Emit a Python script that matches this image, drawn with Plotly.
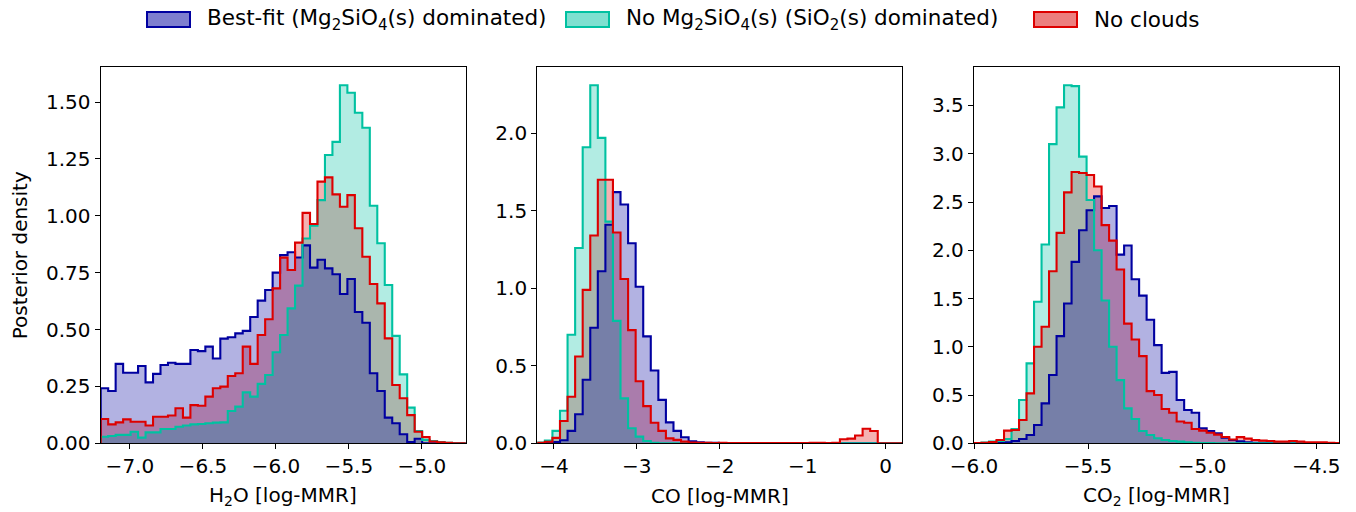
import numpy as np
import plotly.graph_objects as go

W, H = 1356, 512

# ---------------- data (posterior density histograms) ----------------
# Panel 1: H2O
h2o_bin_start, h2o_bin_width = -7.2, 0.0512
h2o_best = [0.242, 0.230, 0.349, 0.310, 0.310, 0.340, 0.268, 0.305, 0.344, 0.354,
            0.349, 0.349, 0.410, 0.405, 0.425, 0.373, 0.460, 0.466, 0.483, 0.494,
            0.555, 0.627, 0.674, 0.750, 0.827, 0.840, 0.817, 0.870, 0.772, 0.807,
            0.769, 0.743, 0.656, 0.722, 0.577, 0.530, 0.308, 0.230, 0.113, 0.088,
            0.040, 0.006, 0.020, 0.000, 0.000, 0.000, 0.000, 0.000, 0.000]
h2o_nomg = [0.029, 0.032, 0.037, 0.037, 0.051, 0.025, 0.048, 0.048, 0.063, 0.063,
            0.073, 0.078, 0.083, 0.085, 0.088, 0.091, 0.092, 0.142, 0.161, 0.224,
            0.205, 0.261, 0.300, 0.400, 0.476, 0.593, 0.693, 0.900, 0.956, 1.069,
            1.267, 1.325, 1.574, 1.541, 1.453, 1.387, 1.044, 0.879, 0.696, 0.472,
            0.303, 0.157, 0.054, 0.015, 0.010, 0.005, 0.002, 0.000, 0.000]
h2o_nocl = [0.107, 0.083, 0.092, 0.105, 0.095, 0.095, 0.078, 0.117, 0.117, 0.122,
            0.154, 0.113, 0.168, 0.165, 0.205, 0.242, 0.249, 0.296, 0.308, 0.425,
            0.349, 0.476, 0.545, 0.681, 0.816, 0.762, 0.882, 1.013, 0.964, 1.150,
            1.169, 1.094, 1.040, 1.091, 0.945, 0.820, 0.700, 0.615, 0.461, 0.256,
            0.198, 0.124, 0.051, 0.028, 0.008, 0.004, 0.002, 0.000, 0.000]

# Panel 2: CO
co_bin_start, co_bin_width = -4.2, 0.0912
co_best = [0.000, 0.003, 0.008, 0.020, 0.080, 0.187, 0.410, 0.745, 1.110, 1.410,
           1.620, 1.540, 1.290, 1.010, 0.690, 0.470, 0.280, 0.135, 0.080, 0.039,
           0.013, 0.006, 0.004, 0.003, 0.002, 0.002, 0.001, 0.001, 0.001, 0.000,
           0.000, 0.000, 0.000, 0.000, 0.000, 0.000, 0.000, 0.000, 0.000, 0.000,
           0.000, 0.000, 0.000, 0.000, 0.000, 0.000, 0.000, 0.000, 0.000]
co_nomg = [0.005, 0.018, 0.080, 0.210, 0.700, 1.260, 1.910, 2.310, 1.970, 1.430,
           0.790, 0.290, 0.097, 0.043, 0.015, 0.004, 0.000, 0.000, 0.000, 0.000,
           0.000, 0.000, 0.000, 0.000, 0.000, 0.000, 0.000, 0.000, 0.000, 0.000,
           0.000, 0.000, 0.000, 0.000, 0.000, 0.000, 0.000, 0.000, 0.000, 0.000,
           0.000, 0.000, 0.000, 0.000, 0.000, 0.000, 0.000, 0.000, 0.000]
co_nocl = [0.003, 0.010, 0.035, 0.144, 0.300, 0.560, 0.990, 1.340, 1.700, 1.700,
           1.360, 1.060, 0.730, 0.400, 0.240, 0.133, 0.080, 0.032, 0.022, 0.011,
           0.005, 0.004, 0.003, 0.002, 0.003, 0.002, 0.001, 0.002, 0.001, 0.001,
           0.002, 0.001, 0.001, 0.002, 0.002, 0.001, 0.003, 0.003, 0.002, 0.004,
           0.026, 0.030, 0.050, 0.094, 0.079, 0.000, 0.000, 0.000, 0.000]

# Panel 3: CO2
co2_bin_start, co2_bin_width = -6.0, 0.0329
co2_best = [0.000, 0.000, 0.002, 0.005, 0.010, 0.024, 0.045, 0.086, 0.190, 0.414,
            0.707, 1.110, 1.448, 1.880, 2.207, 2.414, 2.558, 2.438, 2.459, 1.955,
            2.050, 1.700, 1.530, 1.280, 1.017, 0.730, 0.740, 0.448, 0.345, 0.317,
            0.155, 0.128, 0.103, 0.059, 0.034, 0.020, 0.010, 0.006, 0.005, 0.004,
            0.004, 0.003, 0.003, 0.003, 0.003, 0.003, 0.003, 0.002, 0.002]
co2_nomg = [0.003, 0.007, 0.017, 0.024, 0.045, 0.148, 0.448, 0.828, 1.466, 2.060,
            3.100, 3.480, 3.710, 3.700, 2.970, 2.520, 2.000, 1.480, 1.000, 0.655,
            0.362, 0.252, 0.128, 0.086, 0.052, 0.034, 0.024, 0.017, 0.010, 0.005,
            0.003, 0.002, 0.001, 0.000, 0.000, 0.000, 0.000, 0.000, 0.000, 0.000,
            0.000, 0.000, 0.000, 0.000, 0.000, 0.000, 0.000, 0.000, 0.000]
co2_nocl = [0.002, 0.005, 0.012, 0.034, 0.131, 0.138, 0.241, 0.517, 1.000, 1.207,
            1.783, 2.180, 2.600, 2.810, 2.800, 2.780, 2.660, 2.260, 2.100, 1.800,
            1.240, 1.076, 0.903, 0.541, 0.500, 0.355, 0.317, 0.226, 0.213, 0.148,
            0.131, 0.110, 0.090, 0.065, 0.040, 0.064, 0.048, 0.034, 0.028, 0.024,
            0.017, 0.017, 0.024, 0.017, 0.010, 0.010, 0.010, 0.005, 0.003]

series_names = ["Best-fit (Mg<sub>2</sub>SiO<sub>4</sub>(s) dominated)",
                "No Mg<sub>2</sub>SiO<sub>4</sub>(s) (SiO<sub>2</sub>(s) dominated)",
                "No clouds"]

x_titles = ["H<sub>2</sub>O [log-MMR]", "CO [log-MMR]", "CO<sub>2</sub> [log-MMR]"]
x_ranges = [[-7.2, -4.7], [-4.2, 0.2], [-6.0, -4.4]]
x_tickvals = [[-7.0, -6.5, -6.0, -5.5, -5.0], [-4, -3, -2, -1, 0], [-6.0, -5.5, -5.0, -4.5]]
x_ticktext = [["\u22127.0", "\u22126.5", "\u22126.0", "\u22125.5", "\u22125.0"],
              ["\u22124", "\u22123", "\u22122", "\u22121", "0"],
              ["\u22126.0", "\u22125.5", "\u22125.0", "\u22124.5"]]
y_tickvals = [[0, 0.25, 0.5, 0.75, 1.0, 1.25, 1.5],
              [0, 0.5, 1.0, 1.5, 2.0],
              [0, 0.5, 1.0, 1.5, 2.0, 2.5, 3.0, 3.5]]
y_ticktext = [["0.00", "0.25", "0.50", "0.75", "1.00", "1.25", "1.50"],
              ["0.0", "0.5", "1.0", "1.5", "2.0"],
              ["0.0", "0.5", "1.0", "1.5", "2.0", "2.5", "3.0", "3.5"]]

# ---------------- styling ----------------
edge_colors = ["#0000A0", "#00C1A1", "#DD0000"]
fill_rgb = [(0, 0, 160), (0, 193, 161), (217, 0, 0)]
FONT = "DejaVu Sans"
FS = 20

panels = [
    (h2o_bin_start, h2o_bin_width, [h2o_best, h2o_nomg, h2o_nocl]),
    (co_bin_start, co_bin_width, [co_best, co_nomg, co_nocl]),
    (co2_bin_start, co2_bin_width, [co2_best, co2_nomg, co2_nocl]),
]

x_domains = [[100.7 / W, 465.7 / W], [537.3 / W, 902.3 / W], [974.0 / W, 1339.0 / W]]
y_domain = [(H - 443.3) / H, (H - 67.3) / H]

fig = go.Figure()


def step_path(start, width, vals):
    n = len(vals)
    edges = [start + width * k for k in range(n + 1)]
    xs = [edges[0]] + edges[:-1] + [edges[-1], edges[-1]]
    ys = [0.0] + list(vals) + [vals[-1], 0.0]
    return xs, ys


fill_order = [2, 1, 0]   # fills: no clouds, no Mg2SiO4, best-fit
line_order = [0, 1, 2]   # outlines drawn above all fills
for p, (start, width, series) in enumerate(panels):
    ax = "" if p == 0 else str(p + 1)
    for s in fill_order:
        xs, ys = step_path(start, width, series[s])
        r, g, b = fill_rgb[s]
        fig.add_trace(go.Scatter(
            x=xs, y=ys, mode="lines", line=dict(width=0, shape="hv"),
            fill="tozeroy", fillcolor=f"rgba({r},{g},{b},0.3)",
            name=series_names[s], showlegend=False, hoverinfo="skip",
            xaxis="x" + ax, yaxis="y" + ax))
    for s in line_order:
        xs, ys = step_path(start, width, series[s])
        fig.add_trace(go.Scatter(
            x=xs, y=ys, mode="lines", line=dict(color=edge_colors[s], width=2.1, shape="hv"),
            name=series_names[s], showlegend=False, hoverinfo="skip",
            xaxis="x" + ax, yaxis="y" + ax))

layout = dict(
    width=W, height=H, margin=dict(l=0, r=0, t=0, b=0),
    paper_bgcolor="white", plot_bgcolor="white", showlegend=False,
    font=dict(family=FONT, size=FS, color="black"),
)
for p, (start, width, series) in enumerate(panels):
    ax = "" if p == 0 else str(p + 1)
    ymax = 1.05 * max(max(v) for v in series)
    common = dict(showline=True, linecolor="black", linewidth=1.3, mirror=True,
                  ticks="outside", ticklen=5, tickwidth=1.3, tickcolor="black",
                  showgrid=False, zeroline=False, automargin=False,
                  tickfont=dict(family=FONT, size=FS, color="black"))
    layout["xaxis" + ax] = dict(domain=x_domains[p], range=x_ranges[p], anchor="y" + ax,
                                tickmode="array", tickvals=x_tickvals[p], ticktext=x_ticktext[p],
                                **common)
    layout["yaxis" + ax] = dict(domain=y_domain, range=[0, ymax], anchor="x" + ax,
                                tickmode="array", tickvals=y_tickvals[p], ticktext=y_ticktext[p],
                                **common)
fig.update_layout(**layout)

annotations = []
for p in range(3):
    cx = (x_domains[p][0] + x_domains[p][1]) / 2
    annotations.append(dict(text=x_titles[p], x=cx, y=(H - 496) / H, xref="paper", yref="paper",
                            xanchor="center", yanchor="middle", showarrow=False,
                            font=dict(family=FONT, size=FS, color="black")))
annotations.append(dict(text="Posterior density", x=20 / W, y=(H - 255.3) / H, xref="paper",
                        yref="paper", xanchor="center", yanchor="middle", textangle=-90,
                        showarrow=False, font=dict(family=FONT, size=FS, color="black")))

# legend (drawn manually as patches + labels)
legend_patch_x = [(147, 190), (566, 609), (1034, 1077)]
legend_text_x = [205, 624, 1092]
shapes = []
for s in range(3):
    r, g, b = fill_rgb[s]
    x0, x1 = legend_patch_x[s]
    shapes.append(dict(type="rect", xref="paper", yref="paper",
                       x0=x0 / W, x1=x1 / W, y0=(H - 27) / H, y1=(H - 12) / H,
                       line=dict(color=edge_colors[s], width=2),
                       fillcolor=f"rgba({r},{g},{b},0.5)"))
    annotations.append(dict(text=series_names[s], x=legend_text_x[s] / W, y=(H - 19.5) / H,
                            xref="paper", yref="paper", xanchor="left", yanchor="middle",
                            showarrow=False, font=dict(family=FONT, size=21.5, color="black")))

fig.update_layout(annotations=annotations, shapes=shapes)
fig.write_html("out.html", config={"displayModeBar": False},
               post_script="document.body.style.margin='0px';document.body.style.overflow='hidden';")
